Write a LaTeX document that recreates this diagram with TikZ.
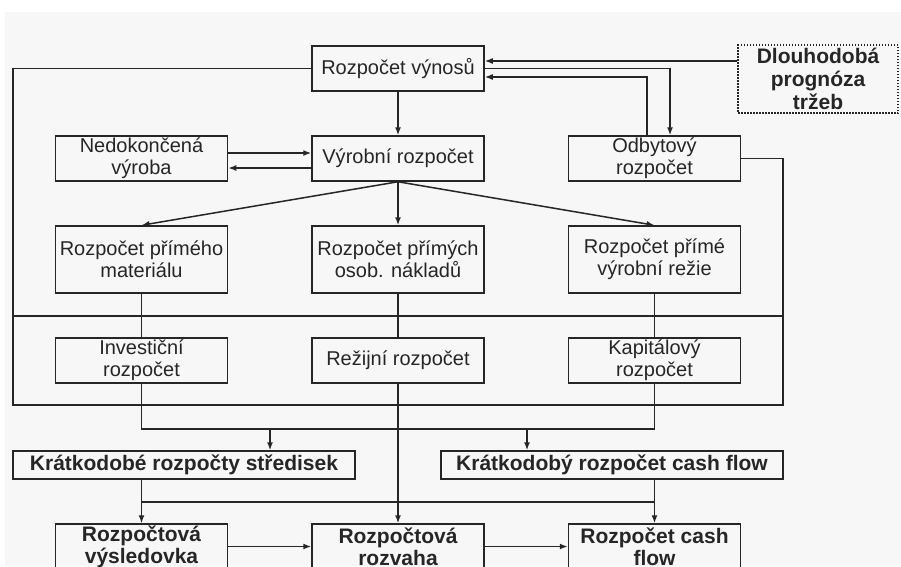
\documentclass[tikz,border=0pt]{standalone}
\usepackage{fontspec}
\setmainfont{Liberation Sans}
\usetikzlibrary{arrows.meta}
\usetikzlibrary{calc}

\begin{document}
\begin{tikzpicture}[x=1pt,y=-1pt,line width=1.5pt,color=black!85,
            box/.style={draw,inner sep=0pt,align=center,minimum width=172pt,minimum height=45pt,font=\fontsize{20}{22}\selectfont},
            tall/.style={box,minimum height=67pt},
            heavy/.style={box,font=\fontsize{21}{22}\selectfont\bfseries},
            wide/.style={heavy,minimum width=342pt,minimum height=28pt},
            dotbox/.style={heavy,dash pattern=on 1.5pt off 1.5pt,minimum width=160pt,minimum height=68pt,font=\fontsize{21}{23}\selectfont\bfseries},
            arr/.style={-{Latex[length=8pt,width=6pt]}}]
            \path[use as bounding box,clip] (0,0) rectangle (901,566);
            \fill[black!3] (5,12) rectangle (901,566);
            \node[box] (vynosy) at (398,68.5) {Rozpočet výnosů};
            \node[dotbox] (prognoza) at (818,79) {Dlouhodobá\\prognóza\\tržeb};
            \node[box] (nedok) at (141.5,158.5) {Nedokončená\\výroba};
            \node[box] (vyrobni) at (398,158.5) {Výrobní rozpočet};
            \node[box] (odbyt) at (654.5,158.5) {Odbytový\\rozpočet};
            \node[tall] (material) at (141.5,259.5) {Rozpočet přímého\\materiálu};
            \node[tall] (osob) at (398,259.5) {Rozpočet přímých\\osob. nákladů};
            \node[tall] (rezie) at (654.5,259.5) {Rozpočet přímé\\výrobní režie};
            \node[box] (invest) at (141.5,360.5) {Investiční\\rozpočet};
            \node[box] (rezijni) at (398,360.5) {Režijní rozpočet};
            \node[box] (kapital) at (654.5,360.5) {Kapitálový\\rozpočet};
            \node[wide] (strediska) at (184,465) {Krátkodobé rozpočty středisek};
            \node[wide] (cashkr) at (612,465) {Krátkodobý rozpočet cash flow};
            \node[heavy] (vysledovka) at (141.5,546.5) {Rozpočtová\\výsledovka};
            \node[heavy] (rozvaha) at (398,546.5) {Rozpočtová\\rozvaha};
            \node[heavy] (cashflow) at (654.5,546.5) {Rozpočet cash\\flow};
            \coordinate (fA) at (13,68.5);
            \coordinate (fB) at (13,405);
            \coordinate (fC) at (783,405);
            \coordinate (fD) at (783,158.5);
            \coordinate (gA) at (13,316);
            \coordinate (gB) at (783,316);
            \coordinate (bA) at (270,429);
            \coordinate (bB) at (527,429);
            \coordinate (cA) at (0,502);
            \draw (vynosy.west) -- (fA) -- (fB) -- (fC) -- (fD) -- (odbyt.east);
            \draw (gA) -- (gB);
            \draw[arr] ([yshift=18pt]prognoza.west) -- ([yshift=7.5pt]vynosy.east);
            \draw[arr] (vynosy.east) -| ([xshift=15.5pt]odbyt.north);
            \draw[arr] ([xshift=-7.5pt]odbyt.north) |- ([yshift=-8.5pt]vynosy.east);
            \draw[arr] (vynosy) -- (vyrobni);
            \draw[arr] ([yshift=5.5pt]nedok.east) -- ([yshift=5.5pt]vyrobni.west);
            \draw[arr] ([yshift=-9.5pt]vyrobni.west) -- ([yshift=-9.5pt]nedok.east);
            \foreach \n in {material,osob,rezie}
                \draw[arr] (vyrobni.south) -- (\n.north);
            \draw (material) -- (invest);
            \draw (osob) -- (rezijni);
            \draw (rezie) -- (kapital);
            \draw (invest.south) |- (bA) -| (kapital.south);
            \draw[arr] (bA) -- (bA |- strediska.north);
            \draw[arr] (bB) -- (bB |- cashkr.north);
            \draw[arr] (rezijni) -- (rozvaha);
            \draw[arr] (strediska.south -| vysledovka.north) -- (vysledovka.north);
            \draw[arr] (cashkr.south -| cashflow.north) -- (cashflow.north);
            \draw (cA -| vysledovka.north) -- (cA -| cashflow.north);
            \draw[arr] (vysledovka) -- (rozvaha);
            \draw[arr] (rozvaha) -- (cashflow);
        \end{tikzpicture}
\end{document}
